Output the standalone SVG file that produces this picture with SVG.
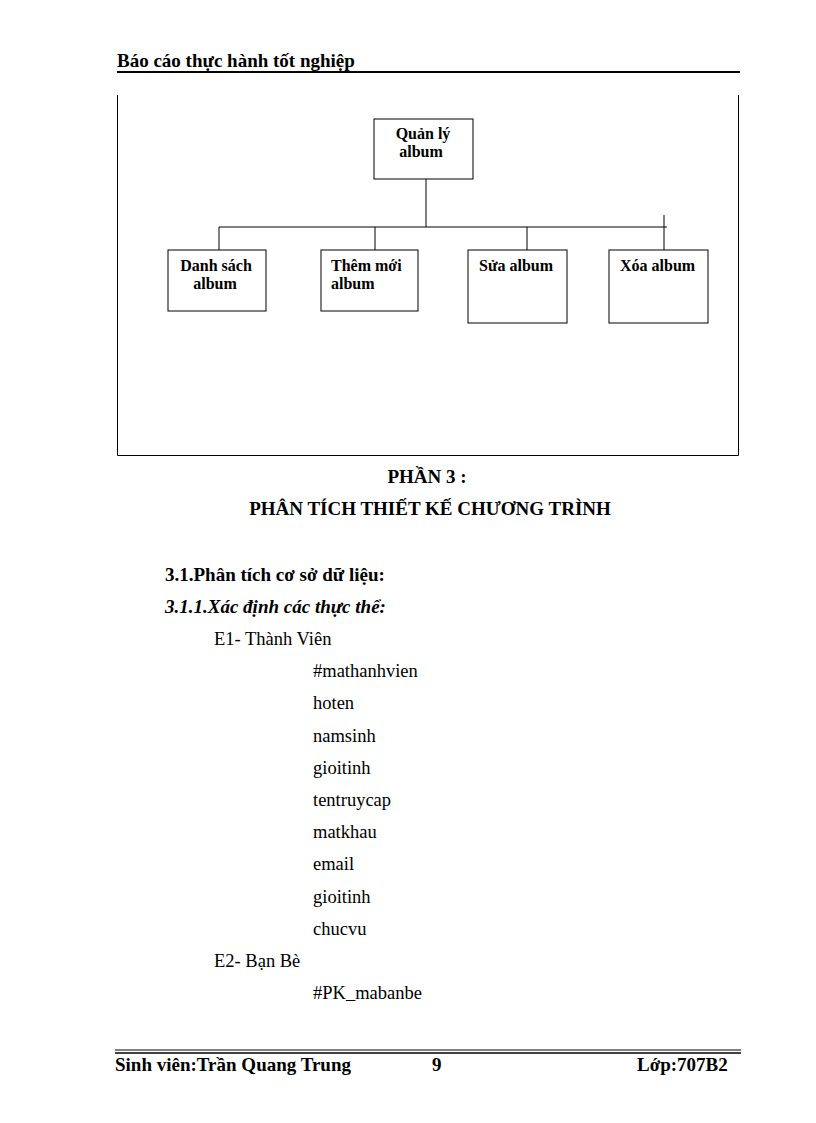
<svg xmlns="http://www.w3.org/2000/svg" width="816" height="1123" viewBox="0 0 816 1123">
<style>
text{font-family:"Liberation Serif","Times New Roman",serif;fill:#000}
.b{font-weight:bold}
.n{font-size:16px}
.box{fill:#fff;stroke:#000;stroke-width:1}
.c{stroke:#000;stroke-width:1;fill:none}
.t{font-size:19px}
.l{font-size:18.5px}
</style>
<rect width="816" height="1123" fill="#fff"/>
<text x="117" y="67" class="b" font-size="19">Báo cáo thực hành tốt nghiệp</text>
<line x1="117" y1="72" x2="740" y2="72" stroke="#000" stroke-width="2"/>
<path d="M117.5 95V455.5H738.5V95" class="c"/>
<g id="connectors">
<path class="c" d="M426 179V227M219 227H667M219 227V250M375 227V250M527 227V250M664 215V250"/>
</g>
<g id="n0"><rect class="box" x="374" y="119" width="99" height="60"/><text class="b n" x="423" y="139" text-anchor="middle">Quản lý</text><text class="b n" x="421" y="157" text-anchor="middle">album</text></g>
<g id="n1"><rect class="box" x="168" y="250" width="98" height="61"/><text class="b n" x="216" y="271" text-anchor="middle">Danh sách</text><text class="b n" x="215" y="289" text-anchor="middle">album</text></g>
<g id="n2"><rect class="box" x="321" y="250" width="97" height="61"/><text class="b n" x="331" y="271">Thêm mới</text><text class="b n" x="331" y="289">album</text></g>
<g id="n3"><rect class="box" x="468" y="250" width="99" height="73"/><text class="b n" x="479" y="271">Sửa album</text></g>
<g id="n4"><rect class="box" x="609" y="250" width="99" height="73"/><text class="b n" x="620" y="271">Xóa album</text></g>
<text x="427" y="483" class="b t" text-anchor="middle">PHẦN 3 :</text>
<text x="430" y="515" class="b t" text-anchor="middle">PHÂN TÍCH THIẾT KẾ CHƯƠNG TRÌNH</text>
<text x="165" y="581" class="b t">3.1.Phân tích cơ sở dữ liệu:</text>
<text x="165" y="613" class="b t" font-style="italic">3.1.1.Xác định các thực thể:</text>
<g>
<text class="l" x="214" y="645">E1- Thành Viên</text>
<text class="l" x="313" y="677">#mathanhvien</text>
<text class="l" x="313" y="709">hoten</text>
<text class="l" x="313" y="742">namsinh</text>
<text class="l" x="313" y="774">gioitinh</text>
<text class="l" x="313" y="806">tentruycap</text>
<text class="l" x="313" y="838">matkhau</text>
<text class="l" x="313" y="870">email</text>
<text class="l" x="313" y="903">gioitinh</text>
<text class="l" x="313" y="935">chucvu</text>
<text class="l" x="214" y="967">E2- Bạn Bè</text>
<text class="l" x="313" y="999">#PK_mabanbe</text>
</g>
<line x1="115" y1="1050" x2="741" y2="1050" stroke="#000" stroke-width="1"/>
<line x1="115" y1="1053" x2="741" y2="1053" stroke="#000" stroke-width="1.5"/>
<text x="115" y="1071" class="b" font-size="19">Sinh viên:Trần Quang Trung</text>
<text x="432" y="1071" class="b" font-size="19">9</text>
<text x="637" y="1071" class="b" font-size="19">Lớp:707B2</text>
</svg>
